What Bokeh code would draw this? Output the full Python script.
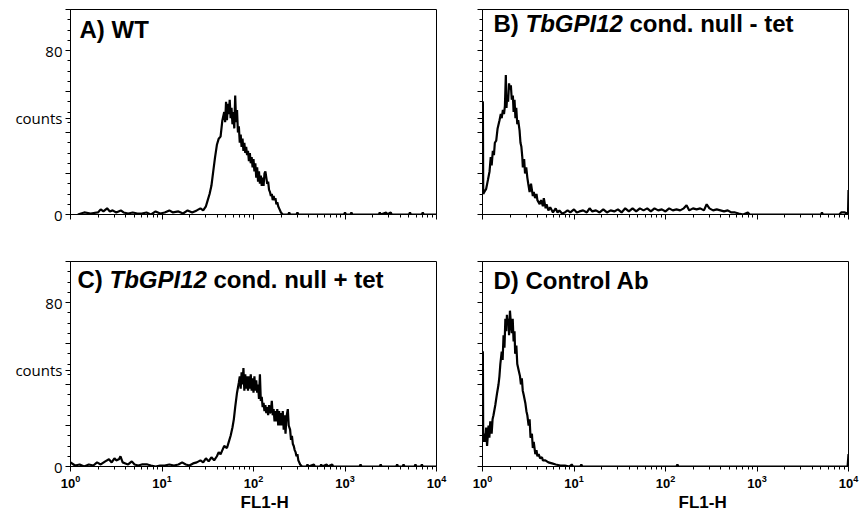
import numpy as np
from bokeh.plotting import figure
from bokeh.layouts import gridplot
from bokeh.models import FixedTicker, Label, Title, CustomJSTickFormatter, ColumnDataSource
from bokeh.embed import file_html
from bokeh.resources import INLINE

# ---- data: FL1-H position (log10 decade) and counts ----
a_dec = [0.08,0.15,0.22,0.30,0.33,0.36,0.40,0.43,0.46,0.50,0.55,0.58,0.63,0.68,0.73,0.78,0.83,0.88,0.93,0.98,
         1.03,1.08,1.12,1.18,1.23,1.28,1.33,1.38,1.42,1.45,1.48,1.50,1.52,1.54,1.56,1.58,1.60,1.62,1.64,1.66,
         1.68,1.69,1.70,1.71,1.72,1.73,1.74,1.75,1.76,1.77,1.78,1.79,1.80,1.81,1.82,1.83,1.84,1.85,1.86,1.87,
         1.88,1.89,1.90,1.91,1.92,1.93,1.94,1.95,1.96,1.97,1.98,1.99,2.00,2.01,2.02,2.03,2.04,2.05,2.06,2.07,
         2.08,2.09,2.10,2.11,2.12,2.13,2.14,2.15,2.16,2.17,2.18,2.19,2.20,2.21,2.22,2.23,2.24,2.25,2.26,2.27,
         2.28,2.29,2.30,2.32,2.38,2.39,2.40,2.47,2.48,2.49,2.99,3.00,3.01,3.06,3.07,3.08,3.37,3.38,3.39,3.45,
         3.46,3.50,3.51,3.70,3.71,3.72,3.84,3.85,3.86,4.00]
a_cnt = [0,1,0.5,1,2.5,1.5,3,1.5,2,1,2,1,0.5,1,0.5,0.5,1,0,1.5,0.5,
         1,2,1,1.5,0.5,2,1,2,3,2,4,7,10,14,21,28,34,37,38,46,
         50,45,55,46,54,49,56,47,52,44,50,42,58,45,51,40,43,35,39,33,
         37,31,35,30,33,29,31,26,30,25,28,23,27,21,25,18,23,16,21,15,
         19,14,18,14,20,21,18,15,16,12,11,9,10,7,9,7,8,5,6,4,
         3,2,1,0,0,1,0,0,1,0,0,1,0,0,1,0,0,1,0,1,
         0,1,0,0,1,0,0,1,0,0]

b_dec = [0.0,0.004,0.008,0.02,0.04,0.06,0.077,0.09,0.10,0.113,0.125,0.135,0.15,0.165,0.186,0.20,0.21,0.223,0.235,0.245,0.255,
         0.262,0.27,0.28,0.29,0.30,0.31,0.32,0.332,0.34,0.35,0.36,0.369,0.38,0.39,0.405,0.415,0.425,0.435,0.441,0.455,
         0.465,0.478,0.49,0.50,0.515,0.53,0.55,0.56,0.575,0.59,0.60,0.625,0.64,0.66,0.67,0.69,0.70,0.72,0.74,0.77,
         0.80,0.82,0.84,0.87,0.90,0.93,0.96,1.00,1.03,1.06,1.10,1.14,1.17,1.20,1.24,1.28,1.32,1.36,1.40,1.44,
         1.48,1.52,1.56,1.60,1.64,1.68,1.72,1.76,1.80,1.84,1.88,1.92,1.96,2.00,2.04,2.08,2.12,2.16,2.20,2.23,
         2.26,2.30,2.34,2.38,2.42,2.45,2.48,2.52,2.56,2.60,2.64,2.68,2.72,2.76,2.80,2.85,2.90,2.92,3.70,3.71,
         3.72,3.90,3.92,3.96,3.98,3.995,4.00]
b_cnt = [55,55,10,11,12.5,17,21,28,24,31,29,35,36,42,46,49,47,51,49,53,68,
         52,58,55,64,61,63,56,58,50,56,47,52,44,46,41,35,33,28,23,27,
         20,23,18,15,11,15,9,11,8,10,7,5,7,4,8,3,5,2,3.5,1,
         3,1,2,0.5,1,2,1,2.5,1,1.5,2,1,3,1.5,2,1,2.5,1,2,1.5,
         2.5,1,3,1.5,3,1.5,3,2,3,1.5,3,2,2.5,1.5,3,2,2.5,2,3,4.5,
         2,3,2.5,3,2,5,3,2,2.5,2,1.5,2,1,1,0.5,0,1,0,0,1,
         0,0,1,1,0.5,1,12]

c_dec = [0.0,0.05,0.10,0.15,0.20,0.25,0.29,0.33,0.38,0.42,0.45,0.48,0.50,0.53,0.546,0.57,0.60,0.63,0.67,0.70,
         0.74,0.78,0.84,0.88,0.93,0.98,1.03,1.08,1.13,1.18,1.22,1.26,1.30,1.34,1.38,1.42,1.45,1.48,1.51,1.54,
         1.57,1.60,1.62,1.64,1.66,1.68,1.71,1.73,1.75,1.77,1.785,1.80,1.82,1.84,1.85,1.86,1.87,1.88,1.89,1.90,
         1.91,1.92,1.93,1.94,1.95,1.96,1.97,1.98,1.99,2.00,2.01,2.02,2.03,2.04,2.05,2.06,2.07,2.08,2.09,2.10,
         2.11,2.12,2.13,2.14,2.15,2.16,2.17,2.18,2.19,2.20,2.21,2.22,2.23,2.24,2.25,2.26,2.27,2.28,2.29,2.30,
         2.31,2.32,2.33,2.34,2.35,2.36,2.375,2.385,2.40,2.41,2.42,2.43,2.44,2.45,2.46,2.47,2.48,2.49,2.50,2.51,
         2.53,2.58,2.59,2.60,2.66,2.67,2.73,2.74,2.75,2.80,2.81,2.86,2.87,3.16,3.17,3.18,3.38,3.39,3.40,3.56,
         3.57,3.58,3.63,3.64,3.65,3.76,3.77,3.78,3.83,3.84,3.85,4.00]
c_cnt = [2,0.5,1,0,1,0.5,2,1,2.5,3.5,2,4,3,3.5,5,2,1.5,1,2.5,1,
         0.5,1,1,0.5,0,0.5,0.5,1,0.5,1,2,1,0.5,1.5,2,3,2,4,2.5,4.5,
         3,5,7,6,8,10,9,12,15,19,23,29,36,41,44,38,46,40,48,37,
         45,38,44,37,44,38,45,37,43,36,44,37,42,36,40,33,45,32,34,29,
         31,27,30,26,29,25,30,26,27,32,25,28,22,27,22,28,20,27,20,26,
         20,27,18,25,16,24,28,20,18,13,15,11,10,8,7,5,6,3,2,1,
         0,0,1,0,1,0,0,1,0,1,0,1,0,0,1,0,0,1,0,0,
         1,0,0,1,0,0,1,0,0,1,0,0]

d_dec = [0.0,0.004,0.008,0.02,0.03,0.04,0.05,0.066,0.075,0.085,0.10,0.11,0.12,0.14,0.16,0.175,0.185,0.195,0.21,0.22,0.23,
         0.24,0.25,0.26,0.267,0.275,0.285,0.29,0.30,0.31,0.32,0.33,0.34,0.35,0.357,0.37,0.38,0.395,0.41,0.42,0.43,
         0.44,0.45,0.468,0.48,0.49,0.504,0.515,0.525,0.54,0.55,0.56,0.577,0.59,0.60,0.614,0.63,0.65,0.66,0.687,0.72,
         0.76,0.80,0.85,0.90,0.95,0.975,0.99,1.07,1.08,1.09,2.12,2.13,2.14,3.99,4.00]
d_cnt = [56,56,12,16,12,19,10,20,14,22,16,23,25,30,36,40,44,50,56,52,64,
         58,72,66,74,69,72,64,76,70,65,72,61,66,55,59,50,47,44,40,43,
         37,35,31,27,25,20,23,14,16,9,12,6,8,5,6,4,4.5,3,3,2,
         1.5,1,0.5,0.5,0,1,0,0,1,0,0,1,0,0,6]

x_tick_values = [1, 10, 100, 1000, 10000]
y_tick_values = [0, 20, 40, 47, 60, 80, 100]
y_tick_labels = {0: "0", 20: "", 40: "", 47: "counts", 60: "", 80: "80", 100: ""}
x_label = "FL1-H"

FRAME_W, FRAME_H = 366, 205
TITLE_FONT = "Liberation Sans"
TITLE_SIZE = 24


def make_panel(dec, cnt, left_col, bottom_row, title_parts, title_drop, xlabel_left):
    bl = 70 if left_col else 34
    br = 12 if left_col else 18
    bt = 24 if bottom_row else 9
    bb = 46 if bottom_row else 23
    p = figure(width=bl + FRAME_W + br, height=bt + FRAME_H + bb,
               x_axis_type="log", x_range=(1, 10000), y_range=(0, 100),
               output_backend="svg", toolbar_location=None,
               min_border_left=bl, min_border_right=br, min_border_top=bt, min_border_bottom=bb)
    p.xgrid.visible = False
    p.ygrid.visible = False
    p.outline_line_color = "black"
    p.outline_line_width = 1
    p.outline_line_alpha = 1
    p.background_fill_color = "white"
    p.border_fill_color = "white"

    src = ColumnDataSource(dict(x=[10 ** v for v in dec], y=cnt))
    p.line("x", "y", source=src, line_color="black", line_width=2.2)

    minor_x = [m * 10 ** e for e in range(4) for m in range(2, 10)]
    xa = p.xaxis[0]
    xa.ticker = FixedTicker(ticks=x_tick_values, minor_ticks=minor_x)
    xa.axis_line_color = "black"
    xa.major_tick_line_color = "black"
    xa.minor_tick_line_color = "black"
    xa.major_tick_in = 0
    xa.major_tick_out = 5
    xa.minor_tick_in = 0
    xa.minor_tick_out = 3
    xa.major_label_standoff = 3
    xa.major_label_text_font = "Liberation Sans"
    xa.major_label_text_font_style = "bold"
    xa.major_label_text_font_size = "13px"
    xa.major_label_text_color = "black"
    if not bottom_row:
        xa.formatter = CustomJSTickFormatter(code="return ''")

    ya = p.yaxis[0]
    ya.ticker = FixedTicker(ticks=y_tick_values, minor_ticks=list(range(0, 101, 5)))
    ya.axis_line_color = "black"
    ya.major_tick_line_color = "black"
    ya.minor_tick_line_color = "black"
    ya.major_tick_in = 0
    ya.major_tick_out = 5
    ya.minor_tick_in = 0
    ya.minor_tick_out = 3
    ya.major_label_standoff = 3
    ya.major_label_text_font = "Open Sans"
    ya.major_label_text_font_size = "15px"
    ya.major_label_text_color = "black"
    if left_col:
        ya.major_label_overrides = y_tick_labels
    else:
        ya.formatter = CustomJSTickFormatter(code="return ''")

    if bottom_row:
        p.add_layout(Title(text=x_label, align="left", offset=xlabel_left, standoff=0,
                           text_font="Liberation Sans", text_font_style="bold", text_font_size="17px",
                           text_color="black"), "below")

    for (xoff, txt, style) in title_parts:
        p.add_layout(Label(x=xoff, y=FRAME_H - title_drop, x_units="screen", y_units="screen", text=txt,
                           text_font=TITLE_FONT, text_font_style=style, text_font_size=f"{TITLE_SIZE}px",
                           text_color="black", text_align="left", text_baseline="alphabetic"))
    return p


# title piece offsets from Arial/Liberation Bold metrics at 24px: "X) " = 32px, "TbGPI12" = 97.4px, space = 6.7px
pa = make_panel(a_dec, a_cnt, True, False, [(9, "A) WT", "bold")], 20, 0)
pb = make_panel(b_dec, b_cnt, False, False,
                [(11, "B)", "bold"), (43, "TbGPI12", "bold italic"), (147, "cond. null - tet", "bold")], 13.5, 0)
pc = make_panel(c_dec, c_cnt, True, True,
                [(7, "C)", "bold"), (39, "TbGPI12", "bold italic"), (143, "cond. null + tet", "bold")], 18, 170)
pd = make_panel(d_dec, d_cnt, False, True, [(11, "D) Control Ab", "bold")], 19, 196)

grid = gridplot([[pa, pb], [pc, pd]], toolbar_location=None)

open("out.html", "w").write(file_html(grid, INLINE))
